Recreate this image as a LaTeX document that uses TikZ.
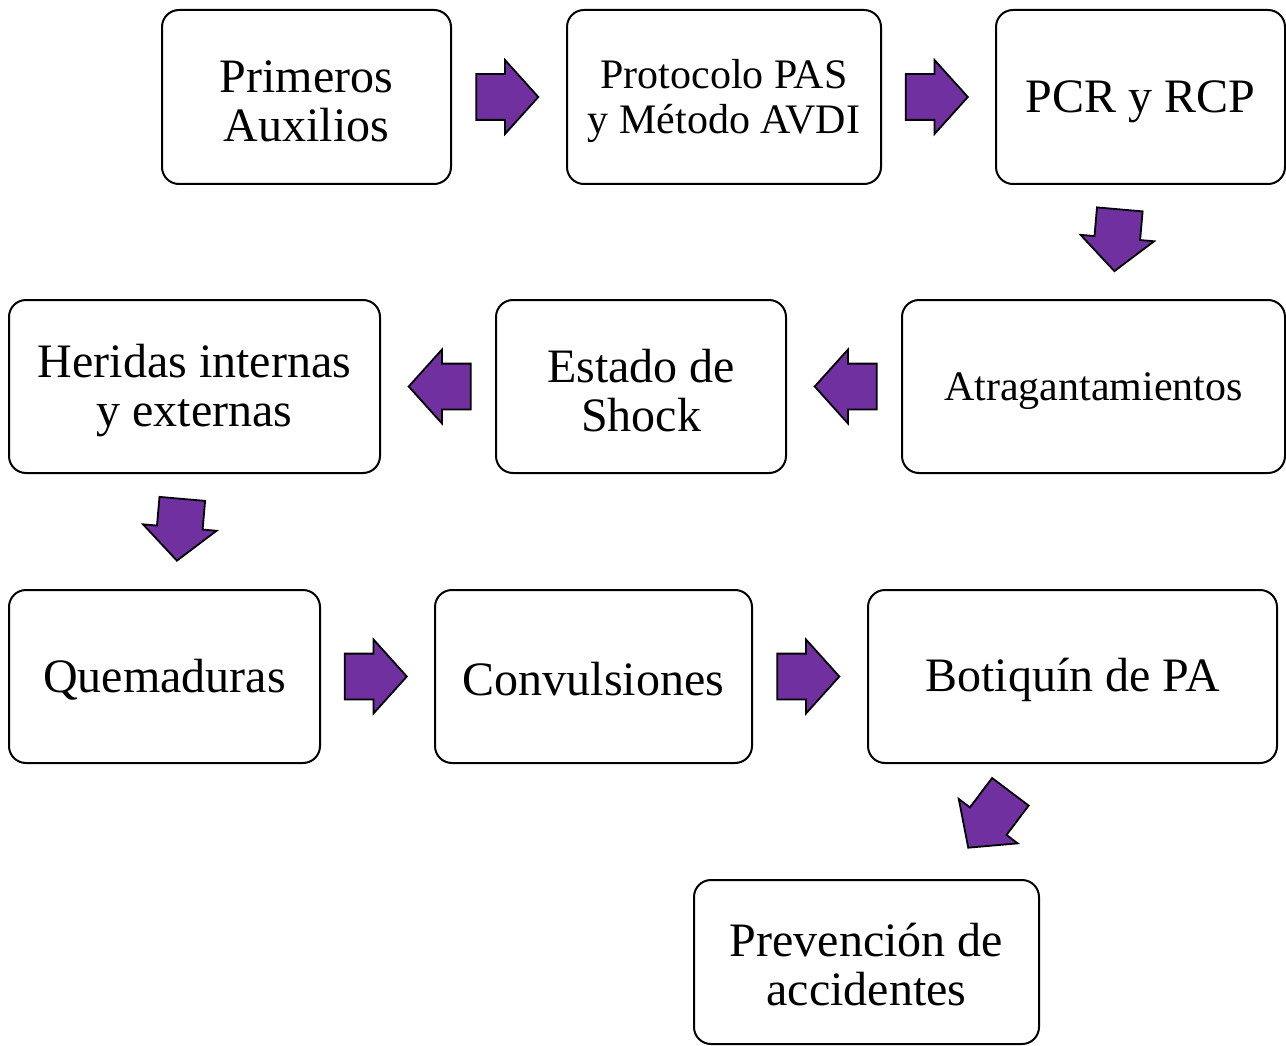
\documentclass[tikz,border=0pt]{standalone}
\usepackage{fontspec}
\setmainfont{Liberation Serif}
\usetikzlibrary{shapes.arrows,calc}
\definecolor{arrowpurple}{HTML}{7030A0}
\begin{document}
\begin{tikzpicture}[x=1pt,y=-1pt,
  box/.style={draw=black, line width=2pt, rounded corners=17pt, inner sep=0pt},
  big/.style={align=center, inner sep=0pt, font=\fontsize{48}{49}\selectfont},
  small/.style={align=center, inner sep=0pt, font=\fontsize{42}{45}\selectfont},
  barrow/.style={single arrow, draw=black, line width=1.8pt, fill=arrowpurple,
    minimum height=62pt, minimum width=72pt, single arrow head extend=14pt,
    single arrow tip angle=96, inner sep=0pt, inner ysep=22pt}
]
\useasboundingbox (0,0) rectangle (1286,1046);

\node[box, minimum width=289pt, minimum height=174pt] (n1) at (306.5,97) {};
\node[box, minimum width=314pt, minimum height=174pt] (n2) at (724,97) {};
\node[box, minimum width=289pt, minimum height=174pt] (n3) at (1140.5,97) {};
\node[box, minimum width=383pt, minimum height=173pt] (n4) at (1093.5,386.5) {};
\node[box, minimum width=290pt, minimum height=173pt] (n5) at (641,386.5) {};
\node[box, minimum width=371pt, minimum height=173pt] (n6) at (194.5,386.5) {};
\node[box, minimum width=311pt, minimum height=173pt] (n7) at (164.5,676.5) {};
\node[box, minimum width=317pt, minimum height=173pt] (n8) at (593.5,676.5) {};
\node[box, minimum width=409pt, minimum height=173pt] (n9) at (1072.5,676.5) {};
\node[box, minimum width=345pt, minimum height=164pt] (n10) at (866.5,962) {};

\node[big] (t1) at ([yshift=-4pt]n1.center) {Primeros\\Auxilios};
\node[small] (t2) at ([yshift=-4pt]n2.center) {Protocolo PAS\\y Método AVDI};
\node[big] (t3) at ([yshift=-5pt]n3.center) {PCR y RCP};
\node[small] (t4) at ([yshift=-5pt]n4.center) {Atragantamientos};
\node[big] (t5) at ([yshift=-4pt]n5.center) {Estado de\\Shock};
\node[big] (t6) at ([yshift=-4pt]n6.center) {Heridas internas\\y externas};
\node[big] (t7) at ([yshift=-3pt]n7.center) {Quemaduras};
\node[big] (t8) at ([yshift=-3pt]n8.center) {Convulsiones};
\node[big] (t9) at ([yshift=-3pt]n9.center) {Botiquín de PA};
\node[big] (t10) at ([yshift=-3pt]n10.center) {Prevención de\\accidentes};

\node[barrow] (a1) at ($($(n1.east)!0.5!(n2.west)$)+(-12,0)$) {};
\node[barrow] (a2) at ($($(n2.east)!0.5!(n3.west)$)+(-12,0)$) {};
\node[barrow, rotate=-95] (a3) at ($($(n3.south)!0.5!(n4.north)$)+(1,-12)$) {};
\node[barrow, rotate=180] (a4) at ($($(n4.west)!0.5!(n5.east)$)+(12,0)$) {};
\node[barrow, rotate=180] (a5) at ($($(n5.west)!0.5!(n6.east)$)+(12,0)$) {};
\node[barrow, rotate=-95] (a6) at ($($(n6.south)!0.5!(n7.north)$)+(1,-12)$) {};
\node[barrow] (a7) at ($($(n7.east)!0.5!(n8.west)$)+(-12,0)$) {};
\node[barrow] (a8) at ($($(n8.east)!0.5!(n9.west)$)+(-12,0)$) {};
\node[barrow, rotate=-127, minimum height=70pt] (a9) at ($($(n9.south)!0.5!(n10.north)$)+(26,-10)$) {};
\end{tikzpicture}
\end{document}
